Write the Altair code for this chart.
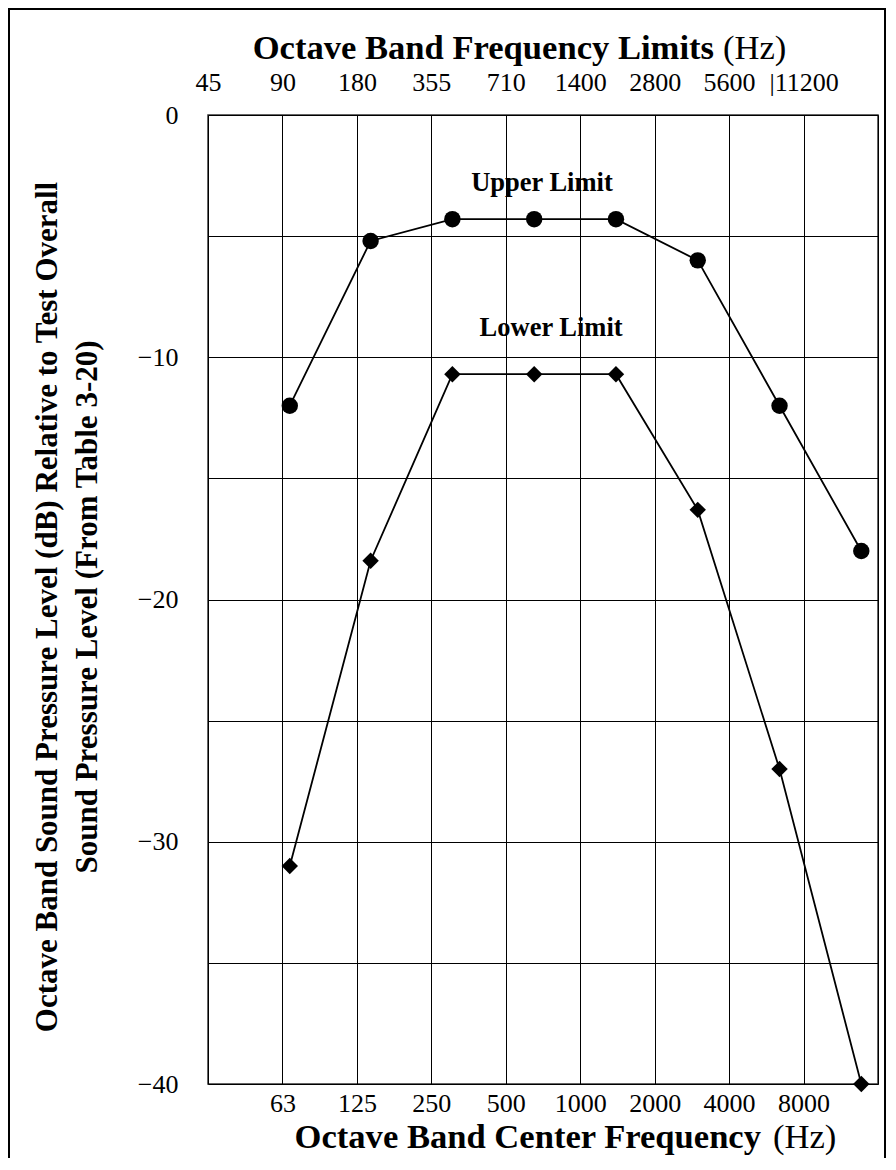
import altair as alt
import pandas as pd

# ---------------- data ----------------
center_freqs = [63, 125, 250, 500, 1000, 2000, 4000, 8000]
upper_limit = [-12.0, -5.2, -4.3, -4.3, -4.3, -6.0, -12.0, -18.0]
lower_limit = [-31.0, -18.4, -10.7, -10.7, -10.7, -16.3, -27.0, -40.0]

center_labels = ["63", "125", "250", "500", "1000", "2000", "4000", "8000"]
band_limit_labels = ["45", "90", "180", "355", "710", "1400", "2800", "5600", "|11200"]
grid_positions = list(range(10))
y_grid_values = list(range(-40, 1, 5))

annotation_labels = ["Upper Limit", "Lower Limit"]
annotation_freqs = [534, 577]
annotation_levels = [-2.8, -8.8]

y_title_lines = [
    "Octave Band Sound Pressure Level (dB) Relative to Test Overall",
    "Sound Pressure Level (From Table 3-20)",
]

FONT = "Liberation Serif"
W, H = 670, 969

upper_df = pd.DataFrame({"freq": center_freqs, "level": upper_limit})
lower_df = pd.DataFrame({"freq": center_freqs, "level": lower_limit})
grid_df = pd.DataFrame({"pos": grid_positions})
ann_df = pd.DataFrame({"label": annotation_labels, "freq": annotation_freqs, "level": annotation_levels})
one_df = pd.DataFrame({"k": [0]})

x_data = alt.X("freq:Q", scale=alt.Scale(type="log", base=2, domain=[31.5, 9216], nice=False), axis=None)
y_enc = alt.Y(
    "level:Q",
    scale=alt.Scale(domain=[-40, 0], nice=False, zero=False),
    axis=alt.Axis(
        values=y_grid_values,
        labelExpr="datum.value % 10 == 0 ? datum.label : ''",
        grid=True, gridColor="#000", gridWidth=1, gridOpacity=1,
        domain=False, ticks=False,
        labelFont=FONT, labelFontSize=26, labelColor="#000", labelPadding=30,
        title=None,
    ),
)


def js_array(items):
    return "[" + ",".join("'" + s + "'" for s in items) + "]"


bottom_expr = js_array([""] + center_labels + [""]) + "[datum.value]"
top_expr = js_array(band_limit_labels + [""]) + "[datum.value]"

grid_layer = alt.Chart(grid_df).mark_point(opacity=0).encode(
    x=alt.X(
        "pos:Q",
        scale=alt.Scale(domain=[0, 9], nice=False, zero=False),
        axis=alt.Axis(
            orient="bottom", values=grid_positions, labelExpr=bottom_expr,
            grid=True, gridColor="#000", gridWidth=1, gridOpacity=1,
            domain=False, ticks=False, labelFlush=False, labelOverlap=False,
            labelFont=FONT, labelFontSize=26, labelColor="#000", labelPadding=6,
            title=None,
        ),
    )
)

top_layer = alt.Chart(grid_df).mark_point(opacity=0).encode(
    x=alt.X(
        "pos:Q",
        scale=alt.Scale(domain=[0, 9], nice=False, zero=False),
        axis=alt.Axis(
            orient="top", values=grid_positions[:-1], labelExpr=top_expr,
            grid=False, domain=False, ticks=False, labelFlush=False, labelOverlap=False,
            labelFont=FONT, labelFontSize=26, labelColor="#000", labelPadding=20,
            title=None,
        ),
    )
)

upper_line = alt.Chart(upper_df).mark_line(color="#000", strokeWidth=1.8).encode(x=x_data, y=y_enc)
upper_pts = alt.Chart(upper_df).mark_point(shape="circle", filled=True, size=270, color="#000", opacity=1).encode(x=x_data, y=y_enc)
lower_line = alt.Chart(lower_df).mark_line(color="#000", strokeWidth=1.8).encode(x=x_data, y=y_enc)
lower_pts = alt.Chart(lower_df).mark_point(shape="diamond", filled=True, size=270, color="#000", opacity=1).encode(x=x_data, y=y_enc)

ann = alt.Chart(ann_df).mark_text(
    font=FONT, fontSize=26.5, fontWeight="bold", align="center", baseline="middle", color="#000"
).encode(x=x_data, y=y_enc, text="label:N")

title_bold = dict(font=FONT, fontSize=34.6, fontWeight="bold", color="#000", baseline="alphabetic")
title_reg = dict(font=FONT, fontSize=34.6, fontWeight="normal", color="#000", baseline="alphabetic")

top_t1 = alt.Chart(one_df).mark_text(align="right", **title_bold).encode(
    x=alt.value(506), y=alt.value(-56), text=alt.value("Octave Band Frequency Limits"))
top_t2 = alt.Chart(one_df).mark_text(align="left", **title_reg).encode(
    x=alt.value(515), y=alt.value(-56), text=alt.value("(Hz)"))
bot_t1 = alt.Chart(one_df).mark_text(align="right", **title_bold).encode(
    x=alt.value(553), y=alt.value(1033), text=alt.value("Octave Band Center Frequency"))
bot_t2 = alt.Chart(one_df).mark_text(align="left", **title_reg).encode(
    x=alt.value(565), y=alt.value(1033), text=alt.value("(Hz)"))

y_title = alt.Chart(one_df).mark_text(
    angle=270, font=FONT, fontSize=31, fontWeight="bold", color="#000",
    align="center", baseline="middle", lineHeight=40,
).encode(x=alt.value(-160), y=alt.value(492), text=alt.value(y_title_lines))

frame = alt.Chart(one_df).mark_rect(filled=False, stroke="#000", strokeWidth=2, color="#000").encode(
    x=alt.value(-199), x2=alt.value(677), y=alt.value(-106), y2=alt.value(1100))

chart = (
    alt.layer(
        grid_layer, top_layer,
        upper_line, upper_pts, lower_line, lower_pts, ann,
        top_t1, top_t2, bot_t1, bot_t2, y_title, frame,
    )
    .resolve_scale(x="independent")
    .resolve_axis(x="independent")
    .properties(
        width=W, height=H,
        padding={"left": 200, "top": 107, "right": 10, "bottom": 74},
        autosize=alt.AutoSizeParams(type="none"),
        background="white",
    )
    .configure_view(stroke="#333", strokeWidth=1.5)
)

chart.save("out.html", embed_options={"renderer": "svg", "actions": False})
